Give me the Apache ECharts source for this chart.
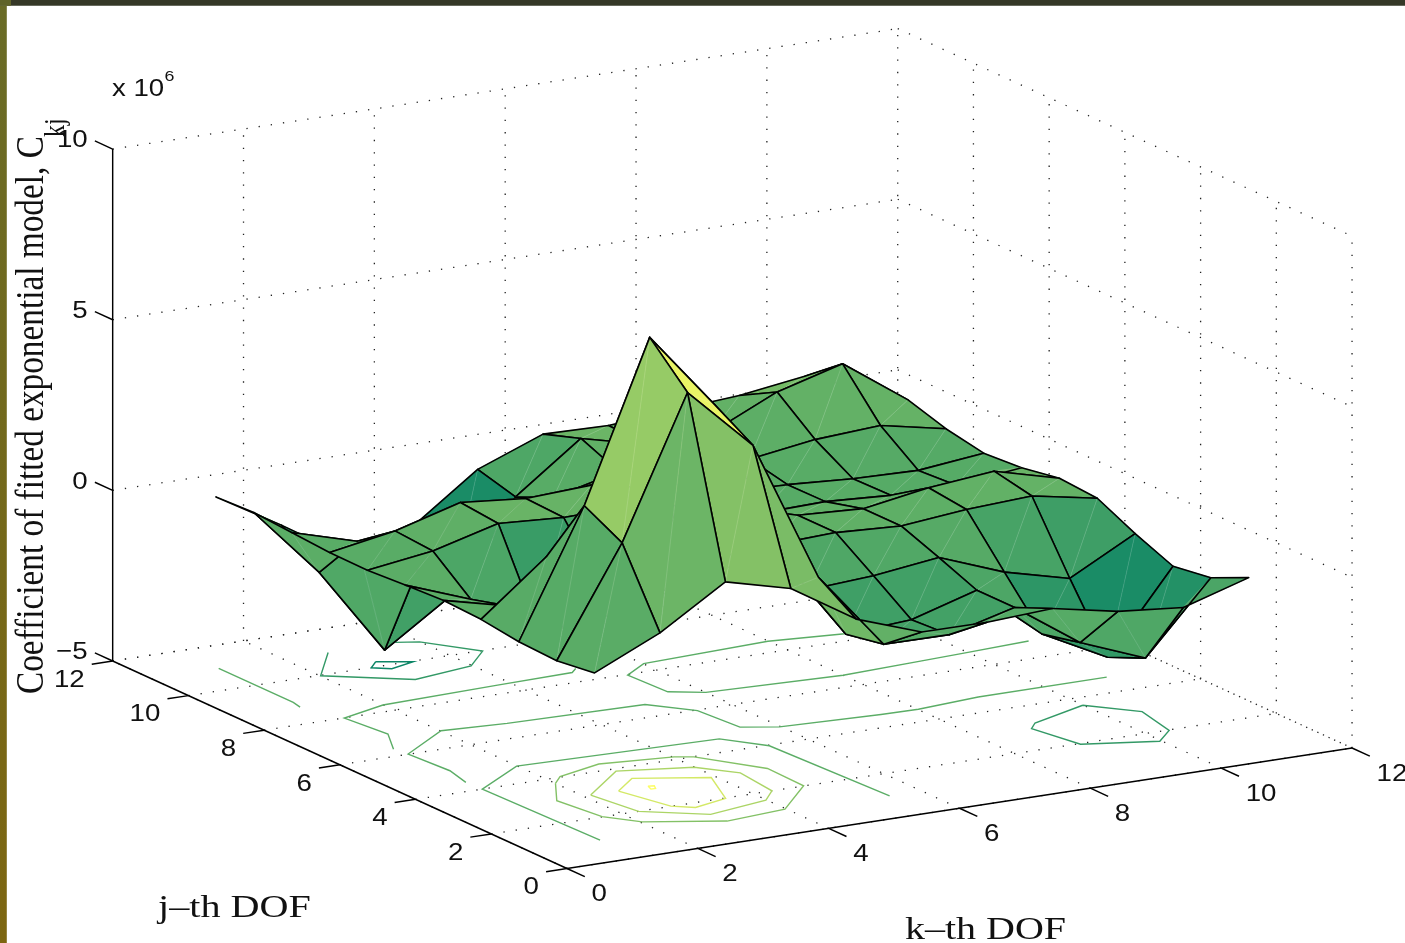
<!DOCTYPE html>
<html><head><meta charset="utf-8">
<script src="https://cdn.jsdelivr.net/npm/echarts@6/dist/echarts.min.js"></script>
<style>html,body{margin:0;padding:0;background:#fff}#c{width:1405px;height:943px}</style>
</head><body><div id="c"></div>
<script>
// --- data (z in units of 10^6) ---
const kTicks = [0,2,4,6,8,10,12];
const jTicks = [0,2,4,6,8,10,12];
const zTicks = [-5,0,5,10];
const kNodes = [1,2,3,4,5,6,7,8,9,10,11];
const zJ1  = [-0.07,0.81,2.01,1.52,0.33,-0.34,-0.35,-0.24,-0.62,-0.80,-0.22];
const zJ2  = [-0.22,2.94,7.05,5.21,1.05,-1.21,-1.22,-0.72,-2.04,-2.79,-0.73];
const zJ3  = [-0.17,3.52,8.16,5.88,1.13,-1.42,-1.29,-0.72,-2.30,-3.27,-0.90];
const zJ4  = [-0.02,1.52,3.49,2.40,0.40,-0.63,-0.51,-0.27,-0.99,-1.47,-0.45];
const zJ5  = [0.03,-0.43,-1.43,-0.90,-0.27,0.17,0.25,0.15,0.34,0.44,0.08];
const zJ6  = [-0.03,-0.74,-1.71,-0.95,-0.83,0.80,0.25,0.15,0.47,0.66,0.16];
const zJ7  = [-0.10,0.17,0.68,0.56,0.60,-0.43,-0.20,-0.15,-0.26,-0.26,-0.04];
const zJ8  = [-0.09,0.25,0.79,0.61,0.71,-0.40,-0.10,-0.16,-0.28,-0.33,-0.12];
const zJ9  = [-0.01,-0.56,-1.32,-1.12,-0.16,0.30,0.15,0.08,0.36,0.48,0.09];
const zJ10 = [0.07,-1.98,-4.55,-3.27,-0.65,0.77,0.30,0.36,1.25,1.78,0.43];
const zJ11 = [0.02,-1.10,-2.30,-1.74,-0.35,0.39,0.35,0.50,0.64,0.91,0.20];

// contour lines on the floor: level, then [k,j] vertices
const contourA8 = [[2.99,3.03],[3.07,3.00],[3.02,2.88],[2.95,2.88],[2.99,3.03]];
const contourB6 = [[2.53,3.01],[3.00,3.47],[3.93,2.98],[3.57,1.98],[3.00,1.79],[2.75,2.01],[2.53,3.01]];
const contourC4 = [[2.11,3.02],[3.00,3.89],[3.99,3.54],[4.38,2.99],[4.29,2.00],[3.99,1.64],[3.00,1.39],[2.25,2.00],[2.11,3.02]];
const contourD2 = [[2.00,3.76],[2.22,4.02],[2.98,4.31],[4.02,4.12],[4.25,3.99],[4.80,3.00],[4.78,2.01],[3.98,1.12],[3.02,0.99],[2.03,1.52],[1.70,2.01],[1.58,3.00],[2.00,3.76]];
const contourE0 = [[1.09,1.01],[1.02,4.00],[1.99,4.77],[4.99,4.60],[5.39,3.97],[5.51,1.00]];
const contourF0 = [[1.00,4.40],[1.11,5.01],[1.05,6.01],[2.01,6.80],[2.95,6.68],[5.00,6.58],[5.45,5.97],[5.52,4.97],[5.98,4.72],[7.45,4.58],[8.01,4.56],[9.00,4.69],[10.97,4.70]];
const contourG0 = [[1.00,6.31],[1.32,7.01],[1.22,7.99],[1.99,8.30],[3.80,8.40],[4.97,8.45],[5.11,8.60]];
const contourH0 = [[9.06,8.32],[7.99,8.50],[6.01,8.36],[5.54,7.97],[5.58,6.98],[6.00,6.70],[8.00,6.53],[9.26,6.63],[9.98,6.69],[10.98,6.78]];
const contourI0 = [[1.03,10.98],[1.03,9.01],[0.99,8.76]];
const contourJm2 = [[3.70,10.93],[3.99,10.79],[4.48,9.97],[3.98,9.41],[3.00,9.19],[2.01,9.98],[2.68,10.94]];
const contourKm4 = [[2.99,10.22],[3.42,9.97],[3.00,9.81],[2.79,9.99],[2.99,10.22]];
const contourLm2 = [[9.99,3.64],[10.51,2.97],[10.35,1.98],[9.97,1.57],[8.99,1.97],[8.82,2.97],[9.00,3.19],[9.99,3.64]];

const zRows = [zJ1,zJ2,zJ3,zJ4,zJ5,zJ6,zJ7,zJ8,zJ9,zJ10,zJ11];
const contours = [
  [8,contourA8],[6,contourB6],[4,contourC4],[2,contourD2],[0,contourE0],[0,contourF0],
  [0,contourG0],[0,contourH0],[0,contourI0],[-2,contourJm2],[-4,contourKm4],[-2,contourLm2]
];

// --- orthographic view of the box onto a flat value-axis plane ---
const VIEW = {ku:65.42, ju:-37.86, kw:10.04, jw:17.29, zw:34.13, zFloor:-5};
function proj(k,j,z){
  return [VIEW.ku*k+VIEW.ju*j, VIEW.kw*k+VIEW.jw*j+VIEW.zw*(z-VIEW.zFloor)];
}
const all = zRows.flat();
const cMin = Math.min(...all), cMax = Math.max(...all);
function summer(z){
  const t = Math.max(0,Math.min(1,(z-cMin)/(cMax-cMin)));
  return 'rgb('+Math.round(255*t)+','+Math.round(255*(0.5+t/2))+','+Math.round(255*0.4)+')';
}

// gridline and axis segments built from ticks: [k0,j0,z0,k1,j1,z1]
const zTop = zTicks[zTicks.length-1], zBot = zTicks[0], K = kTicks[kTicks.length-1], J = jTicks[jTicks.length-1];
const dotted = [], solid = [];
kTicks.forEach(k=>{
  if(k>0) dotted.push([k,J,zBot,k,J,zTop]);
  dotted.push([k,0,zBot,k,J,zBot]);
});
jTicks.forEach(j=>{
  if(j<J) dotted.push([K,j,zBot,K,j,zTop]);
  dotted.push([0,j,zBot,K,j,zBot]);
});
zTicks.forEach(z=>{
  dotted.push([0,J,z,K,J,z]);
  dotted.push([K,J,z,K,0,z]);
});
solid.push([0,J,zBot,0,J,zTop],[0,0,zBot,0,J,zBot],[0,0,zBot,K,0,zBot]);
kTicks.forEach(k=>solid.push([k,0,zBot,k,-0.47,zBot]));
jTicks.forEach(j=>solid.push([0,j,zBot,-0.32,j,zBot]));
zTicks.forEach(z=>solid.push([0,J,z,0,J+0.47,z]));

// faces, back to front
const faces = [];
for(let ji=zRows.length-2; ji>=0; ji--){
  for(let ki=kNodes.length-2; ki>=0; ki--) faces.push([ki,ji]);
}
function node(api,ki,ji){
  const p = proj(kNodes[ki], ji+1, zRows[ji][ki]);
  return api.coord(p);
}
function segSeries(list,color,width,dash,z){
  return {type:'custom',coordinateSystem:'cartesian2d',silent:true,z:z,clip:false,animation:false,
    data:list,
    renderItem:function(params,api){
      const s = list[params.dataIndex];
      const a = api.coord(proj(s[0],s[1],s[2])), b = api.coord(proj(s[3],s[4],s[5]));
      return {type:'line',shape:{x1:a[0],y1:a[1],x2:b[0],y2:b[1]},
        style:{stroke:color,lineWidth:width,lineDash:dash||null,fill:null}};
    }};
}
const textFont = '"Liberation Sans", Arial, sans-serif';
const serifFont = '"Liberation Serif", "Times New Roman", serif';
const tickLabels = [];
kTicks.forEach(k=>tickLabels.push({p:[k,0,zBot],t:String(k),dx:24.5,dy:26,a:'left'}));
jTicks.forEach(j=>tickLabels.push({p:[0,j,zBot],t:String(j),dx:-28,dy:19,a:'right'}));
zTicks.forEach(z=>tickLabels.push({p:[0,J,z],t:z<0?'\u2212'+Math.abs(z):String(z),dx:-25,dy:-8.5,a:'right'}));

const option = {
  animation:false,
  backgroundColor:'#ffffff',
  grid:{left:0,right:0,top:0,bottom:0,containLabel:false},
  xAxis:{type:'value',min:-567,max:838,show:false},
  yAxis:{type:'value',min:-74.5,max:868.5,show:false},
  graphic:{elements:[
    {type:'rect',z:100,shape:{x:0,y:0,width:1405,height:5.7},style:{fill:'#353827'}},
    {type:'rect',z:101,shape:{x:0,y:0,width:11,height:5.7},style:{fill:'#5f6328'}},
    {type:'rect',z:101,shape:{x:0,y:5.7,width:6.8,height:937.3},
      style:{fill:new echarts.graphic.LinearGradient(0,0,0,1,[{offset:0,color:'#696b26'},{offset:1,color:'#7d6611'}])}},
    {type:'text',z:50,x:112,y:89,scaleX:1.15,style:{text:'x 10',font:'24px '+textFont,fill:'#111',align:'left',verticalAlign:'middle'}},
    {type:'text',z:50,x:164.5,y:77,scaleX:1.15,style:{text:'6',font:'15.5px '+textFont,fill:'#111',align:'left',verticalAlign:'middle'}},
    {type:'text',z:50,x:158,y:909,scaleX:1.295,style:{text:'j\u2013th DOF',font:'31px '+serifFont,fill:'#111',align:'left',verticalAlign:'middle'}},
    {type:'text',z:50,x:905,y:931,scaleX:1.29,style:{text:'k\u2013th DOF',font:'31px '+serifFont,fill:'#111',align:'left',verticalAlign:'middle'}},
    {type:'text',z:50,x:32.5,y:694,rotation:Math.PI/2,scaleY:1.22,style:{text:'Coefficient of fitted exponential model, C',font:'33.3px '+serifFont,fill:'#111',align:'left',verticalAlign:'middle'}},
    {type:'text',z:50,x:56,y:137,rotation:Math.PI/2,scaleY:1.22,style:{text:'kj',font:'24px '+serifFont,fill:'#111',align:'left',verticalAlign:'middle'}}
  ]},
  series:[
    segSeries(dotted,'#222222',1.3,[1.3,11],1),
    {type:'custom',coordinateSystem:'cartesian2d',silent:true,z:2,clip:false,animation:false,
      data:contours.map((c,i)=>[i]),
      renderItem:function(params,api){
        const c = contours[params.dataIndex];
        const pts = c[1].map(v=>api.coord(proj(v[0],v[1],zBot)));
        return {type:'polyline',shape:{points:pts},style:{stroke:summer(c[0]),lineWidth:1.4,fill:null}};
      }},
    segSeries(solid,'#000000',1.45,null,3),
    {type:'custom',coordinateSystem:'cartesian2d',silent:true,z:4,clip:false,animation:false,
      data:tickLabels.map((t,i)=>[i]),
      renderItem:function(params,api){
        const t = tickLabels[params.dataIndex];
        const a = api.coord(proj(t.p[0],t.p[1],t.p[2]));
        return {type:'text',x:a[0]+t.dx,y:a[1]+t.dy,scaleX:1.13,
          style:{text:t.t,font:'24.5px '+textFont,fill:'#111',align:t.a,verticalAlign:'middle'}};
      }},
    {type:'custom',coordinateSystem:'cartesian2d',silent:true,z:5,clip:false,animation:false,
      data:faces,
      renderItem:function(params,api){
        const f = faces[params.dataIndex];
        const ki=f[0], ji=f[1];
        const a=node(api,ki,ji), b=node(api,ki+1,ji), c=node(api,ki+1,ji+1), d=node(api,ki,ji+1);
        const col = summer(zRows[ji][ki]);
        const triStyle = {fill:col,stroke:col,lineWidth:0.6};
        return {type:'group',children:[
          {type:'polygon',shape:{points:[a,b,c]},style:triStyle},
          {type:'polygon',shape:{points:[a,c,d]},style:triStyle},
          {type:'line',shape:{x1:a[0],y1:a[1],x2:c[0],y2:c[1]},style:{stroke:'rgba(255,255,255,0.16)',lineWidth:0.9,fill:null}},
          {type:'polygon',shape:{points:[a,b,c,d]},style:{fill:null,stroke:'#000',lineWidth:1.6,lineJoin:'round'}}
        ]};
      }}
  ]
};
const chart = echarts.init(document.getElementById('c'),null,{renderer:'canvas',width:1405,height:943});
chart.setOption(option);
</script></body></html>
